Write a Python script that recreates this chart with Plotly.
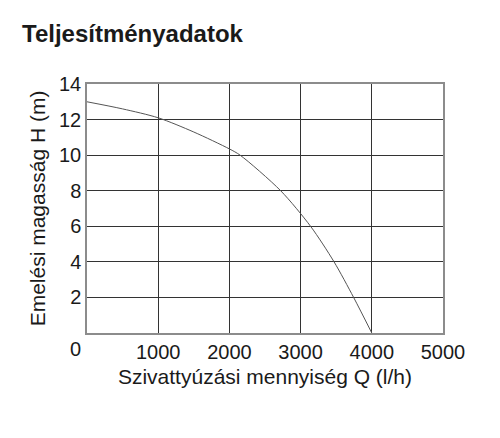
import plotly.graph_objects as go

# Performance curve
flow_lph = [0, 500, 1000, 1500, 2000, 2150, 2720, 3140, 3470, 3745, 4000]
head_m = [13.0, 12.6, 12.1, 11.3, 10.35, 10.0, 8.0, 6.0, 4.0, 2.0, 0.0]

x_ticks = [1000, 2000, 3000, 4000, 5000]
y_ticks = [2, 4, 6, 8, 10, 12, 14]

title_text = "Teljesítményadatok"
x_title = "Szivattyúzási mennyiség Q (l/h)"
y_title = "Emelési magasság H (m)"

FONT = "Liberation Sans, Arial, sans-serif"

fig = go.Figure()
fig.add_trace(go.Scatter(
    x=flow_lph, y=head_m, mode="lines",
    line=dict(color="#555555", width=1, shape="spline", smoothing=0.8),
    showlegend=False, hoverinfo="skip",
))

# page body has an 8px default margin, so offsets compensate for it
fig.update_layout(
    width=500, height=438,
    margin=dict(l=79, r=65, t=76, b=113, autoexpand=False),
    paper_bgcolor="white", plot_bgcolor="white",
    font=dict(family=FONT, color="#1a1a1a", size=20),
    title=dict(text="<b>" + title_text + "</b>", x=14/500, xanchor="left",
               xref="container", y=1 - 26/438, yanchor="middle", yref="container",
               font=dict(family=FONT, size=24, color="#1a1a1a")),
    xaxis=dict(range=[0, 5000], tickvals=x_ticks, ticktext=[str(v) for v in x_ticks],
               showgrid=True, gridcolor="#333333", gridwidth=1,
               showline=True, linecolor="#8c8c8c", linewidth=1.5, mirror=True,
               ticks="", zeroline=False, fixedrange=True, automargin=False,
               tickfont=dict(size=20),
               title=dict(text=x_title, font=dict(size=21), standoff=8)),
    yaxis=dict(range=[0, 14], tickvals=y_ticks, ticktext=[str(v) for v in y_ticks],
               showgrid=True, gridcolor="#333333", gridwidth=1,
               showline=True, linecolor="#8c8c8c", linewidth=1.5, mirror=True,
               ticks="", zeroline=False, fixedrange=True, automargin=False,
               tickfont=dict(size=20),
               title=dict(text=y_title, font=dict(size=21), standoff=8)),
)

# the shared "0" at the lower-left corner
fig.add_annotation(text="0", xref="paper", yref="paper", x=0, y=0,
                   xanchor="right", yanchor="top", xshift=-4, yshift=-3,
                   showarrow=False, font=dict(family=FONT, size=20, color="#1a1a1a"))

fig.write_html("out.html")
